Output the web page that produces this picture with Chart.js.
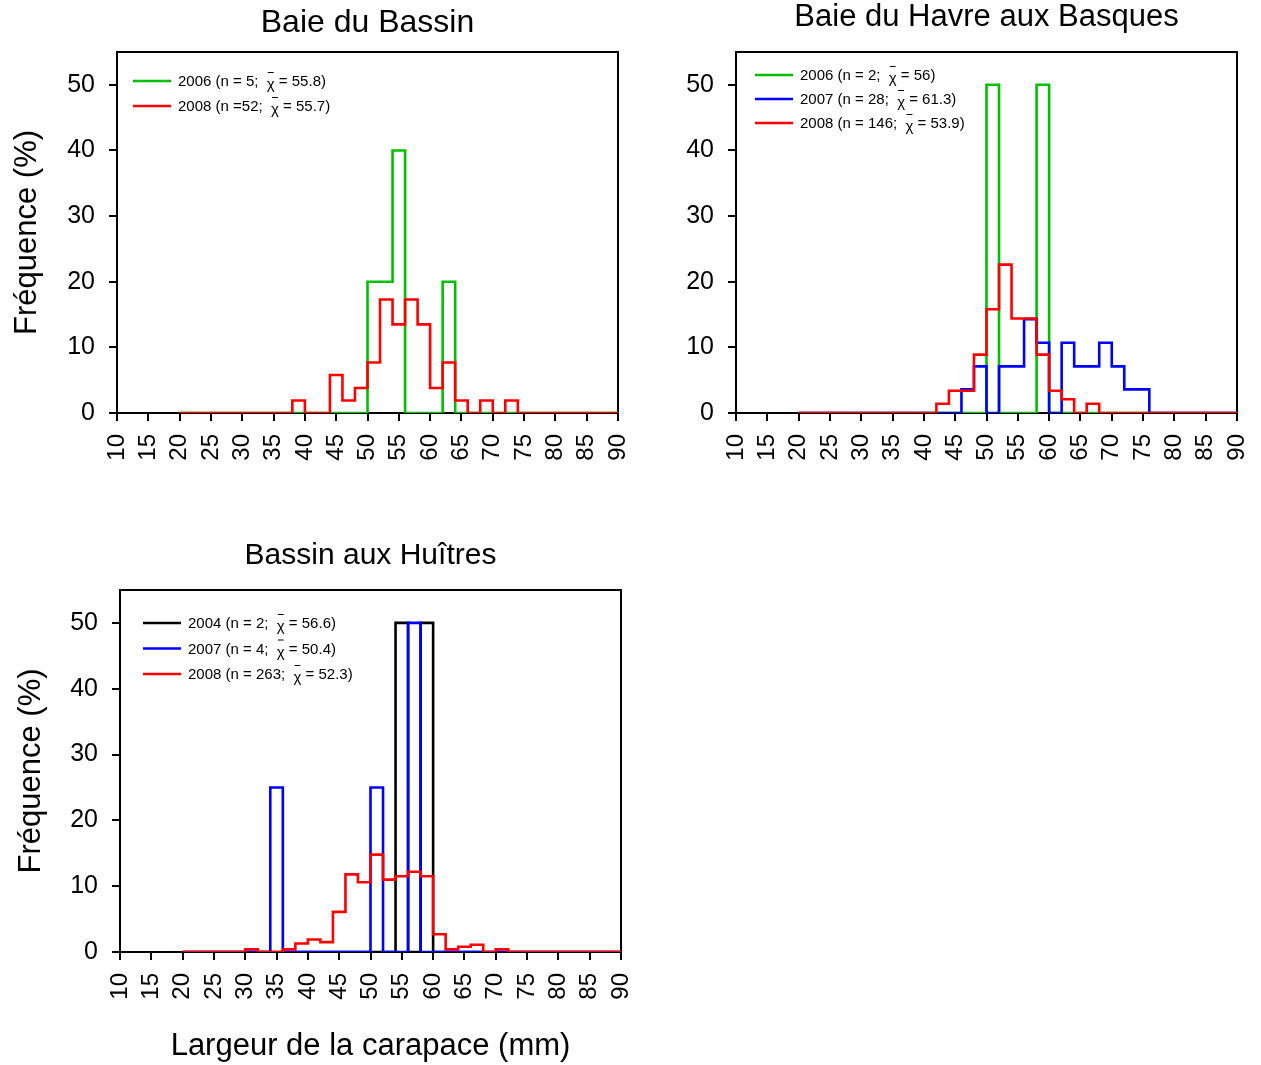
<!DOCTYPE html>
<html><head><meta charset="utf-8">
<script src="https://cdn.jsdelivr.net/npm/chart.js@4.4.0/dist/chart.umd.min.js"></script>
<style>
html,body{margin:0;padding:0;background:#fff;width:1261px;height:1065px;overflow:hidden;}
canvas{position:absolute;}
</style></head>
<body>
<canvas id="c1" width="640" height="480" style="left:0;top:0"></canvas>
<canvas id="c2" width="641" height="480" style="left:620px;top:0"></canvas>
<canvas id="c3" width="640" height="535" style="left:0;top:530px"></canvas>
<script>
// ---- data ----
const binStarts = [20,22,24,26,28,30,32,34,36,38,40,42,44,46,48,50,52,54,56,58,60,62,64,66,68,70,72,74,76,78,80,82,84,86,88];
const binEnd = 90;
const xTickValues = [10,15,20,25,30,35,40,45,50,55,60,65,70,75,80,85,90];
const yTickValues = [0,10,20,30,40,50];

// Baie du Bassin
const bassinLabels = ['2006 (n = 5;  \u03C7\u0304 = 55.8)', '2008 (n =52;  \u03C7\u0304 = 55.7)'];
const bassin2006 = [0,0,0,0,0, 0,0,0,0,0, 0,0,0,0,0, 20,20,40,0,0, 0,20,0,0,0, 0,0,0,0,0, 0,0,0,0,0];
const bassin2008 = [0,0,0,0,0, 0,0,0,0,1.9, 0,0,5.8,1.9,3.8, 7.7,17.3,13.5,17.3,13.5, 3.8,7.7,1.9,0,1.9, 0,1.9,0,0,0, 0,0,0,0,0];

// Baie du Havre aux Basques
const havreLabels = ['2006 (n = 2;  \u03C7\u0304 = 56)', '2007 (n = 28;  \u03C7\u0304 = 61.3)', '2008 (n = 146;  \u03C7\u0304 = 53.9)'];
const havre2006 = [0,0,0,0,0, 0,0,0,0,0, 0,0,0,0,0, 50,0,0,0,50, 0,0,0,0,0, 0,0,0,0,0, 0,0,0,0,0];
const havre2007 = [0,0,0,0,0, 0,0,0,0,0, 0,0,0,3.6,7.1, 0,7.1,7.1,14.3,10.7, 0,10.7,7.1,7.1,10.7, 7.1,3.6,3.6,0,0, 0,0,0,0,0];
const havre2008 = [0,0,0,0,0, 0,0,0,0,0, 0,1.4,3.4,3.4,8.9, 15.8,22.6,14.4,14.4,8.9, 3.4,2.1,0,1.4,0, 0,0,0,0,0, 0,0,0,0,0];

// Bassin aux Huîtres
const huitresLabels = ['2004 (n = 2;  \u03C7\u0304 = 56.6)', '2007 (n = 4;  \u03C7\u0304 = 50.4)', '2008 (n = 263;  \u03C7\u0304 = 52.3)'];
const huitres2004 = [0,0,0,0,0, 0,0,0,0,0, 0,0,0,0,0, 0,0,50,0,50, 0,0,0,0,0, 0,0,0,0,0, 0,0,0,0,0];
const huitres2007 = [0,0,0,0,0, 0,0,25,0,0, 0,0,0,0,0, 25,0,0,50,0, 0,0,0,0,0, 0,0,0,0,0, 0,0,0,0,0];
const huitres2008 = [0,0,0,0,0, 0.4,0,0,0.4,1.3, 1.9,1.5,6.1,11.8,10.6, 14.8,11.0,11.5,12.2,11.5, 2.7,0.4,0.8,1.1,0, 0.4,0,0,0,0, 0,0,0,0,0];

// ---- helpers ----
const FONT = '"Liberation Sans", Arial, Helvetica, sans-serif';
Chart.defaults.font.family = FONT;
Chart.defaults.color = '#000';
const XBAR = '\u03C7\u0304';

function steps(values) {
  const pts = binStarts.map((x, i) => ({x: x, y: values[i]}));
  pts.push({x: binEnd, y: 0});
  return pts;
}
function ds(label, values, color, order) {
  return {label, data: steps(values), borderColor: color, backgroundColor: color,
    borderWidth: 2.6, stepped: true, pointRadius: 0, fill: false, order,
    borderJoinStyle: 'miter', borderCapStyle: 'butt'};
}

const frameBox = {
  id: 'frameBox',
  beforeDatasetsDraw(chart) {
    const {ctx, chartArea: a} = chart;
    ctx.save(); ctx.strokeStyle = '#000'; ctx.lineWidth = 2;
    ctx.strokeRect(a.left, a.top, a.right - a.left, a.bottom - a.top);
    ctx.restore();
  }
};
const insideLegend = {
  id: 'insideLegend',
  afterDraw(chart, args, opts) {
    const {ctx, chartArea: a} = chart;
    ctx.save();
    ctx.font = '15px ' + FONT;
    ctx.textBaseline = 'middle';
    ctx.textAlign = 'left';
    chart.data.datasets.forEach((d, i) => {
      const y = a.top + opts.top + i * opts.gap;
      const x = a.left + opts.left;
      ctx.strokeStyle = d.borderColor; ctx.lineWidth = 2.5;
      ctx.beginPath(); ctx.moveTo(x, y); ctx.lineTo(x + 38, y); ctx.stroke();
      ctx.fillStyle = '#000';
      const k = d.label.indexOf(XBAR);
      let tx = x + 45;
      if (k < 0) { ctx.fillText(d.label, tx, y + 1); return; }
      const pre = d.label.slice(0, k), post = d.label.slice(k + XBAR.length);
      ctx.fillText(pre, tx, y + 1); tx += ctx.measureText(pre).width;
      const cw = ctx.measureText('\u03C7').width;
      ctx.fillText('\u03C7', tx, y + 4);
      ctx.strokeStyle = '#000'; ctx.lineWidth = 1;
      ctx.beginPath(); ctx.moveTo(tx + 1, y - 8.5); ctx.lineTo(tx + cw - 1, y - 8.5); ctx.stroke();
      tx += cw;
      ctx.fillText(post, tx, y + 1);
    });
    ctx.restore();
  }
};

function makeChart(id, o) {
  return new Chart(document.getElementById(id), {
    type: 'line',
    data: {datasets: o.datasets},
    plugins: [frameBox, insideLegend],
    options: {
      responsive: false, animation: false, devicePixelRatio: 1,
      layout: {padding: {left: 0, right: o.padRight, top: 0, bottom: 0}},
      plugins: {
        legend: {display: false}, tooltip: {enabled: false},
        title: {display: true, fullSize: false, text: o.title, color: '#000',
          font: {size: o.titleSize, weight: 'normal', lineHeight: o.titleLH},
          padding: {top: o.titleTop, bottom: o.titleBottom}},
        insideLegend: o.legend
      },
      scales: {
        x: {
          type: 'linear', min: 10, max: 90, offset: false,
          afterBuildTicks: s => { s.ticks = xTickValues.map(v => ({value: v})); },
          afterFit: s => { s.height = o.xAxisH; s.paddingRight = 5; s.paddingLeft = 5; },
          ticks: {autoSkip: false, minRotation: 90, maxRotation: 90, padding: 13,
            font: {size: 24}, color: '#000'},
          grid: {drawOnChartArea: false, drawTicks: true, tickLength: 8, color: '#000', lineWidth: 2},
          border: {display: true, color: '#000', width: 2},
          title: o.xTitle ? {display: true, text: o.xTitle, color: '#000',
            font: {size: 31, lineHeight: 1.2}, padding: {top: 0, bottom: o.xTitlePad}} : {display: false}
        },
        y: {
          type: 'linear', min: 0, max: 55,
          afterBuildTicks: s => { s.ticks = yTickValues.map(v => ({value: v})); },
          afterFit: s => { s.width = o.yAxisW; },
          ticks: {padding: 14, font: {size: 25}, color: '#000'},
          grid: {drawOnChartArea: false, drawTicks: true, tickLength: 8, color: '#000', lineWidth: 2},
          border: {display: true, color: '#000', width: 2},
          title: o.yTitle ? {display: true, text: o.yTitle, color: '#000',
            font: {size: 31, lineHeight: 1.2}, padding: {top: o.yTitlePad, bottom: 0}} : {display: false}
        }
      }
    }
  });
}

makeChart('c1', {
  title: 'Baie du Bassin', titleSize: 32, titleLH: 1.2, titleTop: 4, titleBottom: 9.6,
  padRight: 22, yAxisW: 117, xAxisH: 67, yTitle: 'Fréquence (%)', yTitlePad: 8.4,
  legend: {left: 16, top: 29, gap: 25},
  datasets: [ds(bassinLabels[0], bassin2006, '#00C000', 2), ds(bassinLabels[1], bassin2008, '#FF0000', 0)]
});
makeChart('c2', {
  title: 'Baie du Havre aux Basques', titleSize: 31, titleLH: 1.0, titleTop: 1.5, titleBottom: 19.5,
  padRight: 24, yAxisW: 116, xAxisH: 67,
  legend: {left: 19, top: 23, gap: 24},
  datasets: [ds(havreLabels[0], havre2006, '#00C000', 2), ds(havreLabels[1], havre2007, '#0000FF', 1), ds(havreLabels[2], havre2008, '#FF0000', 0)]
});
makeChart('c3', {
  title: 'Bassin aux Huîtres', titleSize: 30, titleLH: 1.2, titleTop: 8, titleBottom: 16,
  padRight: 19, yAxisW: 120, xAxisH: 113, yTitle: 'Fréquence (%)', yTitlePad: 12.4,
  xTitle: 'Largeur de la carapace (mm)', xTitlePad: 0.4,
  legend: {left: 23, top: 33, gap: 25.5},
  datasets: [ds(huitresLabels[0], huitres2004, '#000000', 2), ds(huitresLabels[1], huitres2007, '#0000FF', 1), ds(huitresLabels[2], huitres2008, '#FF0000', 0)]
});
</script>
</body></html>
